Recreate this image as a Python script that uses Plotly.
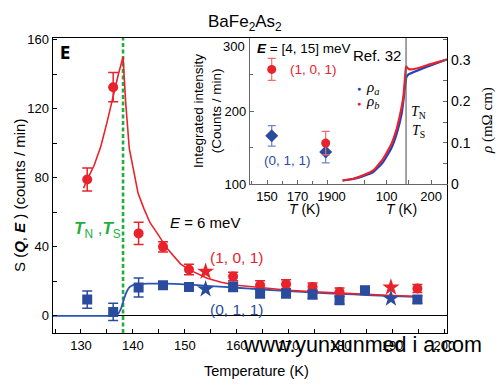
import plotly.graph_objects as go

# ---------------- data ----------------
# main panel: E = 6 meV
T_red = [131.2, 136.2, 141.1, 145.8, 150.8, 159.3, 164.5, 169.5, 174.6, 179.8, 194.8]
S_red = [79, 132.5, 47.8, 40, 26.9, 22.8, 17.8, 18.4, 16.8, 13.9, 15.9]
E_red = [6.7, 8.5, 6.4, 3.0, 3.0, 2.5, 2.5, 2.5, 2.3, 2.3, 2.3]

T_red_star = [154.0, 189.7]
S_red_star = [25.7, 16.5]

T_blue = [131.2, 136.2, 141.1, 145.8, 150.8, 159.3, 164.5, 169.5, 174.6, 179.8, 184.7, 194.8]
S_blue = [9.5, 2.3, 16.5, 17.8, 16.8, 16.8, 13.0, 13.0, 12.4, 9.1, 14.9, 9.5]
E_blue = [5.0, 5.0, 5.5, 2.0, 2.0, 2.7, 2.5, 2.5, 2.5, 2.2, 2.2, 2.2]

T_blue_star = [154.0, 189.7]
S_blue_star = [15.5, 10.1]

# fitted curves
T_red_fit = [130.5, 131.2, 132.5, 133.8, 135.0, 136.2, 137.2, 138.1, 138.6, 139.3, 140.2, 141.0,
             142.1, 143.3, 144.7, 146.6, 149.2, 151.0, 154.3, 157.0, 160.0, 165.0, 170.0, 175.0,
             180.0, 185.0, 190.0, 194.5]
S_red_fit = [74, 79, 87, 98, 112, 128, 140, 150, 124, 97, 82, 71,
             62.3, 54, 47.8, 39, 30, 26.5, 21.8, 19.5, 17.8, 16.2, 14.9, 13.9,
             13.1, 12.4, 11.8, 11.4]

T_blue_fit = [124.6, 130.0, 135.0, 136.5, 137.2, 137.8, 138.3, 138.8, 139.3, 140.0, 141.0, 143.0,
              146.0, 150.0, 155.0, 160.0, 165.0, 170.0, 175.0, 180.0, 185.0, 190.0, 194.5]
S_blue_fit = [0, 0, 0, 0.3, 1.5, 5, 10, 14, 16.5, 17.8, 18.5, 18.7,
              18.7, 18.3, 17.3, 16.3, 15.3, 14.4, 13.5, 12.8, 12.1, 11.5, 11.0]

T_N = 138.1

# inset (left): E = [4, 15] meV
T_in = [153.1, 188.5]
I_red = [257, 156]
I_red_err = [15, 16]
I_blue = [166, 144]
I_blue_err = [14, 15]
I_ticks = [100, 200, 300]

# inset (right): resistivity, Ref. 32
T_rho_b = [1, 25, 47, 70, 92, 111, 122.5, 131.5, 137.5, 141, 143, 144, 147, 152, 167, 197, 235]
rho_b = [0.0085, 0.0126, 0.021, 0.033, 0.061, 0.098, 0.134, 0.175, 0.211, 0.255, 0.281, 0.285,
         0.281, 0.278, 0.280, 0.290, 0.302]
T_rho_a = [1, 25, 47, 70, 92, 111, 122.5, 133.7, 139, 141.5, 143, 144, 148.6, 167, 197, 235]
rho_a = [0.0085, 0.012, 0.019, 0.029, 0.053, 0.088, 0.122, 0.171, 0.215, 0.24, 0.25, 0.258,
         0.265, 0.274, 0.287, 0.302]
T_N_rho = 143.5

# ---------------- styling ----------------
W, H = 500, 386
RED = "#e8232b"
BLUE = "#2b4c9e"
BLUE_L = "#2a55b5"
GREEN = "#1fae3f"
SANS = "Liberation Sans, Arial, sans-serif"
SERIF = "Liberation Serif, Times New Roman, serif"
GRAY = "#666666"


def px(x):
    return x / W


def py(y):
    return 1 - y / H


fig = go.Figure()

# green T_N line
fig.add_trace(go.Scatter(x=[T_N, T_N], y=[-9.9, 161], mode="lines",
                         line=dict(color=GREEN, width=2.6, dash="4px,2.5px"),
                         hoverinfo="skip", showlegend=False))

# fits
fig.add_trace(go.Scatter(x=T_blue_fit, y=S_blue_fit, mode="lines",
                         line=dict(color=BLUE_L, width=1.8, shape="spline", smoothing=0.5),
                         showlegend=False))
fig.add_trace(go.Scatter(x=T_red_fit, y=S_red_fit, mode="lines",
                         line=dict(color=RED, width=1.6), showlegend=False))

# data
fig.add_trace(go.Scatter(x=T_red, y=S_red, mode="markers",
                         marker=dict(color=RED, size=10, symbol="circle"),
                         error_y=dict(type="data", array=E_red, color=RED, thickness=1.5, width=5),
                         showlegend=False))
fig.add_trace(go.Scatter(x=T_red_star, y=S_red_star, mode="markers",
                         marker=dict(color=RED, size=13, symbol="star"), showlegend=False))
fig.add_trace(go.Scatter(x=T_blue, y=S_blue, mode="markers",
                         marker=dict(color=BLUE, size=10, symbol="square"),
                         error_y=dict(type="data", array=E_blue, color=BLUE, thickness=1.5, width=5),
                         showlegend=False))
fig.add_trace(go.Scatter(x=T_blue_star, y=S_blue_star, mode="markers",
                         marker=dict(color=BLUE, size=13, symbol="star"), showlegend=False))

# inset left
fig.add_trace(go.Scatter(x=T_in, y=I_blue, mode="markers", xaxis="x2", yaxis="y2",
                         marker=dict(color=BLUE, size=10, symbol="diamond"),
                         error_y=dict(type="data", array=I_blue_err, color="#6f86c4", thickness=1.2, width=4),
                         showlegend=False))
fig.add_trace(go.Scatter(x=T_in, y=I_red, mode="markers", xaxis="x2", yaxis="y2",
                         marker=dict(color=RED, size=9, symbol="circle"),
                         error_y=dict(type="data", array=I_red_err, color="#ef6b70", thickness=1.2, width=4),
                         showlegend=False))

# inset right
fig.add_trace(go.Scatter(x=T_rho_a, y=rho_a, mode="lines", xaxis="x3", yaxis="y3",
                         line=dict(color="#2040c0", width=2.2, shape="spline", smoothing=0.4),
                         showlegend=False))
fig.add_trace(go.Scatter(x=T_rho_b, y=rho_b, mode="lines", xaxis="x3", yaxis="y3",
                         line=dict(color=RED, width=2.2, shape="spline", smoothing=0.4),
                         showlegend=False))

# ---------------- axes ----------------
main_dom_x = [px(52.7), px(447)]
main_dom_y = [py(333), py(38)]
in_dom_y = [py(184), py(38)]
tickfont = dict(family=SANS, size=13, color="black")
common = dict(automargin=False, showgrid=False, zeroline=False, tickfont=tickfont)

fig.update_layout(
    template="none",
    width=W, height=H, autosize=False,
    margin=dict(l=0, r=0, t=0, b=0, pad=0),
    paper_bgcolor="white", plot_bgcolor="white",
    font=dict(family=SANS, color="black"),
    hovermode=False,
    xaxis=dict(domain=main_dom_x, anchor="y", range=[124.55, 200.5],
               showline=True, mirror=True, linecolor="black", linewidth=1.4,
               ticks="inside", ticklen=4, tickcolor="black", tickwidth=1,
               tickvals=[130, 140, 150, 160, 170, 180, 190, 200],
               minor=dict(ticks="inside", ticklen=4, dtick=5, tickcolor="black"), **common),
    yaxis=dict(domain=main_dom_y, anchor="x", range=[-9.9, 161],
               showline=True, mirror=True, linecolor="black", linewidth=1.4,
               ticks="inside", ticklen=4, tickcolor="black", tickwidth=1,
               tickvals=[0, 40, 80, 120, 160],
               minor=dict(ticks="inside", ticklen=4, dtick=20, tickcolor="black"),
               automargin=False, showgrid=False, zeroline=True, zerolinecolor="black",
               zerolinewidth=1.3, tickfont=tickfont),
    xaxis2=dict(domain=[px(250), px(341.7)], anchor="y2", range=[138.85, 199],
                showline=True, linecolor=GRAY, linewidth=1.2,
                ticks="inside", ticklen=4, tickcolor=GRAY,
                tickvals=[150, 170, 190],
                minor=dict(ticks="inside", ticklen=3, dtick=10, tickcolor=GRAY), **common),
    yaxis2=dict(domain=in_dom_y, anchor="x2", range=[100, 300],
                showline=True, mirror=True, linecolor=GRAY, linewidth=1.2,
                ticks="inside", ticklen=4, tickcolor=GRAY,
                tickvals=I_ticks, ticktext=[str(I_ticks[0]), str(I_ticks[1]), ""],
                minor=dict(ticks="inside", ticklen=3, dtick=50, tickcolor=GRAY), **common),
    xaxis3=dict(domain=[px(341.7), px(447)], anchor="y3", range=[-1, 235.5],
                showline=True, linecolor=GRAY, linewidth=1.2,
                ticks="inside", ticklen=4, tickcolor=GRAY,
                tickvals=[0, 100, 200],
                minor=dict(ticks="inside", ticklen=4, dtick=50, tickcolor=GRAY), **common),
    yaxis3=dict(domain=in_dom_y, anchor="x3", side="right", range=[0, 0.354],
                showline=True, linecolor="black", linewidth=1.4,
                ticks="inside", ticklen=4, tickcolor=GRAY,
                tickvals=[0, 0.1, 0.2, 0.3], ticktext=["0", "0.1", "0.2", "0.3"],
                minor=dict(ticks="inside", ticklen=4, dtick=0.05, tickcolor=GRAY),
                automargin=False, showgrid=False, zeroline=False,
                tickfont=dict(family=SANS, size=14, color="black")),
)

fig.add_shape(type="line", xref="x3", yref="y3 domain", x0=T_N_rho, x1=T_N_rho, y0=0, y1=1,
              line=dict(color=GRAY, width=1.2))


def ann(text, x, y, size=14, color="black", family=SANS, angle=0, xanchor="center"):
    fig.add_annotation(text=text, x=px(x), y=py(y), xref="paper", yref="paper",
                       showarrow=False, xanchor=xanchor, yanchor="middle",
                       textangle=angle, font=dict(family=family, size=size, color=color))


ann("BaFe<sub>2</sub>As<sub>2</sub>", 245, 23, size=17)
ann("<b>E</b>", 65, 53, size=17, family="DejaVu Sans Condensed, DejaVu Sans")
ann("<b><i>T</i></b><sub>N</sub> ,<b><i>T</i></b><sub>S</sub>", 97, 230, size=17, color=GREEN)
ann("<i>E</i> = 6 meV", 205, 222, size=15)
ann("(1, 0, 1)", 236, 257, size=15.5, color=RED)
ann("(0, 1, 1)", 236, 309, size=15.5, color=BLUE)
ann("S (<b><i>Q</i></b>, <b><i>E</i></b> ) (counts / min)", 19, 196, size=15, angle=-90)
ann("Temperature (K)", 256, 371, size=14.5)

# inset texts
ann(str(I_ticks[2]), 247, 47, size=13, xanchor="right")
ann("<b><i>E</i></b> = [4, 15] meV", 303, 48, size=13.5)
ann("(1, 0, 1)", 313, 70, size=13.5, color=RED)
ann("(0, 1, 1)", 287, 161, size=13.5, color=BLUE)
ann("Ref. 32", 377, 55, size=15)
ann("●", 359, 89, size=7, color="#2040c0")
ann("●", 359, 103, size=7, color=RED)
ann("<i>ρ<sub>a</sub></i>", 364, 88, size=15, family=SERIF, xanchor="left")
ann("<i>ρ<sub>b</sub></i>", 364, 102, size=15, family=SERIF, xanchor="left")
ann("<i>T</i><sub>N</sub>", 418, 113, size=14, family=SERIF)
ann("<i>T</i><sub>S</sub>", 418, 131, size=14, family=SERIF)
ann("<i>T</i> (K)", 304, 209, size=14)
ann("<i>T</i> (K)", 401, 209, size=14)
ann("Integrated intensity<br>(Counts / min)", 207, 111, size=13.5, angle=-90)
ann("<i>ρ</i> (mΩ cm)", 487, 121, size=15, family=SERIF, angle=-90)

# watermark
ann("www.yunxunmed i a.com", 362, 345, size=21.5)

fig.write_html("out.html", config={"displayModeBar": False, "responsive": False},
               post_script="document.body.style.margin='0';document.body.style.overflow='hidden';")
